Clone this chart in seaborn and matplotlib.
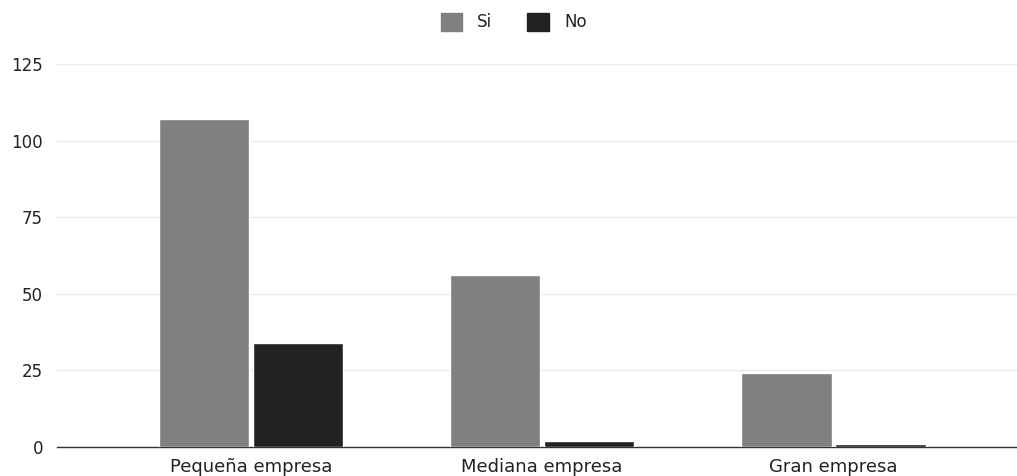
import pandas as pd
import matplotlib
matplotlib.use("Agg")
import matplotlib.pyplot as plt
import seaborn as sns
from matplotlib.patches import Patch

# datos
categorias = ["Pequeña empresa", "Mediana empresa", "Gran empresa"]
si = [107, 56, 24]
no = [34, 2, 1]
yticks = [0, 25, 50, 75, 100, 125]

df = pd.DataFrame({"Tamaño": categorias, "Si": si, "No": no})
df_melted = df.melt(id_vars=["Tamaño"], value_vars=["Si", "No"],
                    var_name="Respuesta", value_name="Cantidad")

sns.set_theme(style="white")
plt.rcParams["font.family"] = ["DejaVu Sans"]

fig = plt.figure(figsize=(10.17, 4.76), dpi=100)
ax = fig.add_axes([57 / 1017, 1 - 447 / 476, 1 - 57 / 1017, (447 - 64) / 476])

sns.barplot(data=df_melted, x="Tamaño", y="Cantidad", hue="Respuesta",
            palette={"Si": "#808080", "No": "#222222"}, width=0.645, gap=0.04,
            ax=ax, legend=False, saturation=1, zorder=3)

ax.set_ylim(0, 125)
ax.set_xlim(-0.665, 2.63)
ax.set_yticks(yticks)
ax.yaxis.grid(True, color="#ebebeb", linewidth=1, zorder=0)
ax.set_axisbelow(True)
for s in ["top", "right", "left"]:
    ax.spines[s].set_visible(False)
ax.spines["bottom"].set_color("#333333")
ax.spines["bottom"].set_linewidth(1)
ax.tick_params(axis="y", length=0, labelsize=12, colors="#222222", pad=10)
ax.tick_params(axis="x", length=0, labelsize=13, colors="#222222", pad=8)
ax.set_xlabel("")
ax.set_ylabel("")

handles = [Patch(color="#808080", label="Si"), Patch(color="#222222", label="No")]
fig.legend(handles=handles, loc="upper center", bbox_to_anchor=(0.505, 1.005), ncol=2,
           frameon=False, fontsize=12, handlelength=1.3, handleheight=1.3,
           columnspacing=2.1, handletextpad=0.9, labelcolor="#222222")

fig.savefig("out.png", dpi=100)
